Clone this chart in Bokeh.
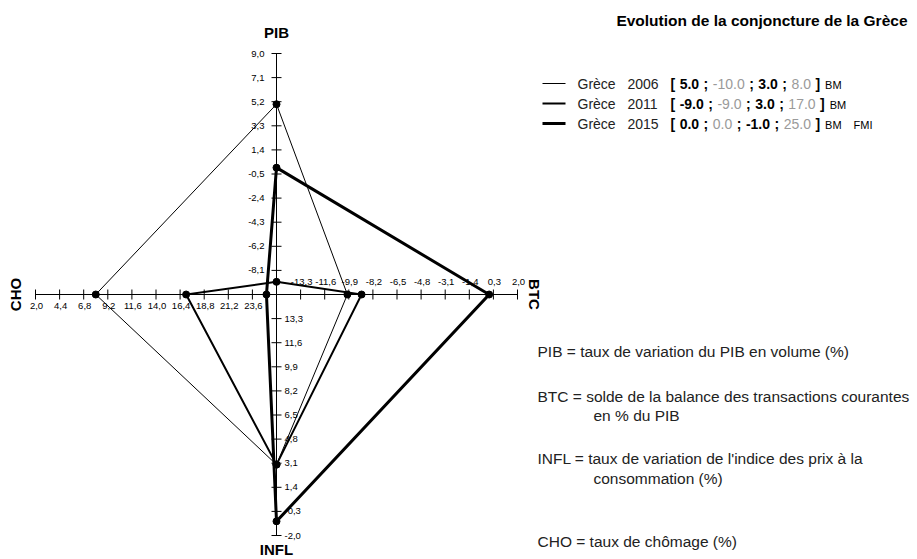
import math
from bokeh.plotting import figure
from bokeh.models import Range1d
from bokeh.embed import file_html
from bokeh.resources import INLINE
from bokeh.core.properties import value

# ---------------- data ----------------
axis_names = ["PIB", "BTC", "INFL", "CHO"]
axis_origin = [-10.0, -15.0, 15.0, 26.0]   # value at the centre of the star
axis_tip = [9.0, 2.0, -2.0, 2.0]           # value at the end of each axis
pib_ticks = [-8.1, -6.2, -4.3, -2.4, -0.5, 1.4, 3.3, 5.2, 7.1, 9.0]
btc_ticks = [-13.3, -11.6, -9.9, -8.2, -6.5, -4.8, -3.1, -1.4, 0.3, 2.0]
infl_ticks = [13.3, 11.6, 9.9, 8.2, 6.5, 4.8, 3.1, 1.4, -0.3, -2.0]
cho_ticks = [23.6, 21.2, 18.8, 16.4, 14.0, 11.6, 9.2, 6.8, 4.4, 2.0]

country = "Grèce"
years = ["2006", "2011", "2015"]
pib = [5.0, -9.0, 0.0]
btc = [-10.0, -9.0, 0.0]
infl = [3.0, 3.0, -1.0]
cho = [8.0, 17.0, 25.0]
sources = [["BM"], ["BM"], ["BM", "FMI"]]
line_widths = [1, 2, 3]

title = "Evolution de la conjoncture de la Grèce"
notes = [
    ("PIB = taux de variation du PIB en volume (%)", 0),
    ("BTC = solde de la balance des transactions courantes", 0),
    ("en % du PIB", 1),
    ("INFL = taux de variation de l'indice des prix à la", 0),
    ("consommation (%)", 1),
    ("CHO = taux de chômage (%)", 0),
]

# ---------------- layout ----------------
W, H = 917, 559
CX, CY, L = 276, 294, 241
DIRS = [(0, -1), (1, 0), (0, 1), (-1, 0)]   # screen directions: up, right, down, left
FONT = value("Liberation Sans")
GRAY = "#9a9a9a"


def Y(sy):
    return -sy


def pos(i, v):
    f = (v - axis_origin[i]) / (axis_tip[i] - axis_origin[i])
    dx, dy = DIRS[i]
    return CX + dx * f * L, CY + dy * f * L


p = figure(width=W, height=H, output_backend="svg", toolbar_location=None,
           x_range=Range1d(0, W), y_range=Range1d(Y(H), Y(0)),
           min_border=0, outline_line_color=None)
p.axis.visible = False
p.grid.visible = False
p.background_fill_color = "white"
p.border_fill_color = "white"

# axes lines
for i in range(4):
    tx, ty = pos(i, axis_tip[i])
    p.line([CX, tx], [Y(CY), Y(ty)], line_color="black", line_width=1)

# ticks + tick labels
all_ticks = [pib_ticks, btc_ticks, infl_ticks, cho_ticks]
TK = 5
for i, ticks in enumerate(all_ticks):
    xs0, ys0, xs1, ys1, lx, ly = [], [], [], [], [], []
    labels = [("%.1f" % t).replace(".", ",") for t in ticks]
    for t in ticks:
        x, y = pos(i, t)
        if DIRS[i][0] == 0:   # vertical axis -> horizontal ticks
            xs0.append(x - TK); xs1.append(x + TK); ys0.append(Y(y)); ys1.append(Y(y))
        else:
            xs0.append(x); xs1.append(x); ys0.append(Y(y - TK)); ys1.append(Y(y + TK))
        if i == 0:
            lx.append(x - 12); ly.append(Y(y))
        elif i == 1:
            lx.append(x + 1); ly.append(Y(y - 13))
        elif i == 2:
            lx.append(x + 8); ly.append(Y(y))
        else:
            lx.append(x + 1); ly.append(Y(y + 11))
    p.segment(x0=xs0, y0=ys0, x1=xs1, y1=ys1, line_color="black", line_width=1)
    align = {0: "right", 1: "center", 2: "left", 3: "center"}[i]
    p.text(x=lx, y=ly, text=labels, text_font=FONT, text_font_size=value("9.5px"),
           text_align=align, text_baseline="middle", text_color="black")

# axis names
name_pos = [(CX, CY - L - 21, 0), (CX + L + 17, CY, -math.pi / 2),
            (CX, CY + L + 14, 0), (CX - L - 20, CY, math.pi / 2)]
for i, (x, y, a) in enumerate(name_pos):
    p.text(x=[x], y=[Y(y)], text=[axis_names[i]], angle=a, text_font=FONT,
           text_font_size=value("15px"), text_font_style="bold",
           text_align="center", text_baseline="middle", text_color="black")

# series
for k in range(3):
    pts = [pos(0, pib[k]), pos(1, btc[k]), pos(2, infl[k]), pos(3, cho[k])]
    xs = [q[0] for q in pts] + [pts[0][0]]
    ys = [Y(q[1]) for q in pts] + [Y(pts[0][1])]
    p.line(xs, ys, line_color="black", line_width=line_widths[k], line_join="miter")
    p.scatter(xs[:4], ys[:4], size=7, marker="circle", fill_color="black", line_color="black")

# title
p.text(x=[907], y=[Y(20)], text=[title], text_font=FONT, text_font_size=value("15.5px"),
       text_font_style="bold", text_align="right", text_baseline="middle", text_color="black")

# legend
REG = {c: 0.556 for c in "0123456789"}
REG.update({".": 0.278, ",": 0.278, "-": 0.333, " ": 0.278, ";": 0.278, "[": 0.278, "]": 0.278,
            "B": 0.667, "M": 0.833, "F": 0.611, "I": 0.278})
BLD = dict(REG)
BLD.update({";": 0.333, "[": 0.333, "]": 0.333})


def tw(s, bold, size):
    tab = BLD if bold else REG
    return sum(tab.get(c, 0.556) for c in s) * size


LS = 14
SS = 11
GAP = 4.5
for k in range(3):
    ry = 83 + 20 * k
    p.segment(x0=[542], y0=[Y(ry)], x1=[565], y1=[Y(ry)], line_color="black", line_width=line_widths[k])
    p.text(x=[577, 627], y=[Y(ry), Y(ry)], text=[country, years[k]], text_font=FONT,
           text_font_size=value("%dpx" % LS), text_align="left", text_baseline="middle",
           text_color="#222222")
    fmt = lambda v: "%.1f" % v
    tokens = [("[", True, "black"), (fmt(pib[k]), True, "black"), (";", True, "black"),
              (fmt(btc[k]), False, GRAY), (";", True, "black"), (fmt(infl[k]), True, "black"),
              (";", True, "black"), (fmt(cho[k]), False, GRAY), ("]", True, "black")]
    x = 670.0
    for (s, b, c) in tokens:
        p.text(x=[x], y=[Y(ry)], text=[s], text_font=FONT, text_font_size=value("%dpx" % LS),
               text_font_style="bold" if b else "normal", text_align="left",
               text_baseline="middle", text_color=c)
        x += tw(s, b, LS) + GAP
    x += 0.5
    for j, src in enumerate(sources[k]):
        p.text(x=[x], y=[Y(ry + 1)], text=[src], text_font=FONT, text_font_size=value("%dpx" % SS),
               text_align="left", text_baseline="middle", text_color="black")
        x += tw(src, False, SS) + 12

# notes
note_y = [351, 396, 415, 458, 478, 541]
for (s, indent), ny in zip(notes, note_y):
    p.text(x=[537 + (56 if indent else 0)], y=[Y(ny)], text=[s], text_font=FONT,
           text_font_size=value("15.5px"), text_align="left", text_baseline="middle",
           text_color="#222222")

open("out.html", "w").write(file_html(p, INLINE))
